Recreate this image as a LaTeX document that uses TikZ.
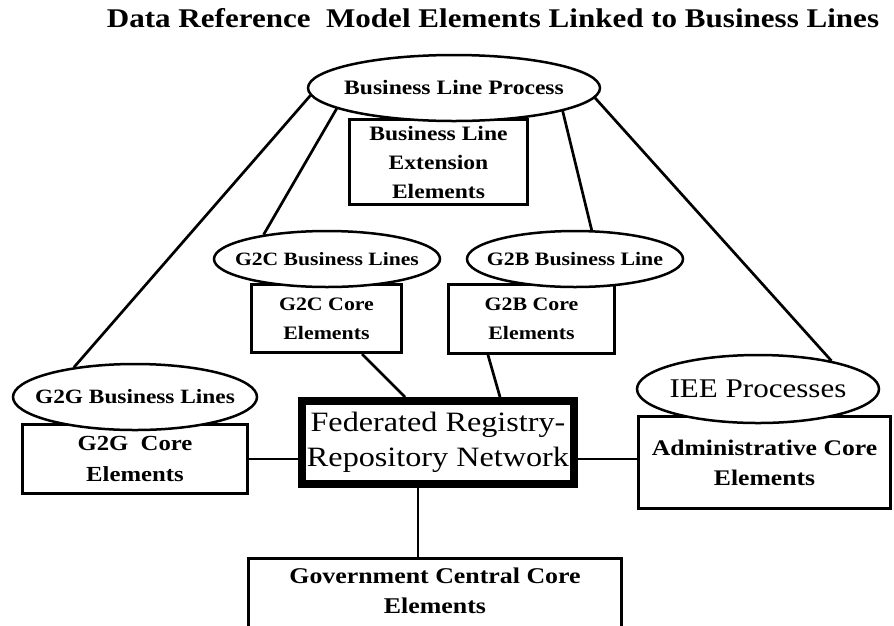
\documentclass[tikz,border=0pt]{standalone}
\usepackage{fontspec}
\setmainfont[FakeStretch=1.15]{Liberation Serif}
\usetikzlibrary{shapes.geometric}
\newcommand{\fsz}[2]{\fontsize{#1}{#2}\selectfont}
\newcommand{\zw}[1]{\makebox[0pt]{#1}}
\begin{document}
\begin{tikzpicture}[x=1pt,y=-1pt,
  ell/.style={draw,ellipse,fill=white,line width=2.5pt,inner sep=0pt},
  box/.style={draw,rectangle,line width=3pt,inner sep=0pt,align=center},
  link/.style={line width=2.7pt}]
\path[use as bounding box,clip] (0,0) rectangle (894,625);
\node[font=\fsz{27}{30}\bfseries] (title) at (493,18) {Data Reference\ \ Model Elements Linked to Business Lines};
% boxes
\node[box,font=\fsz{20.5}{29}\bfseries,minimum width=178,minimum height=85] (ble) at (438.5,162) {Business Line\\Extension\\Elements};
\node[box,font=\fsz{19}{29}\bfseries,minimum width=150,minimum height=68] (g2cb) at (326.5,318.5) {G2C Core\\Elements};
\node[box,font=\fsz{19}{29}\bfseries,minimum width=166,minimum height=69] (g2bb) at (531.5,319) {G2B Core\\Elements};
\node[box,font=\fsz{21.5}{31}\bfseries,minimum width=225,minimum height=69] (g2gb) at (135,459) {G2G\ \ Core\\Elements};
\node[box,font=\fsz{22.3}{30}\bfseries,minimum width=252,minimum height=92] (adm) at (764.5,462.5) {Administrative Core\\Elements};
\node[box,font=\fsz{22.5}{30}\bfseries,minimum width=373,anchor=north,inner ysep=9pt] (gov) at (435,557) {Government Central Core\\Elements\rule[-50pt]{0pt}{0pt}};
\node[draw,rectangle,line width=8pt,minimum width=272,minimum height=83,inner sep=0pt,align=center,font=\fsz{28}{35}] (fed) at (438,442.5) {Federated Registry-\\Repository Network};
% ellipses
\node[ell,font=\fsz{20.5}{24}\bfseries,minimum width=292,minimum height=66] (blp) at (454,88) {\zw{Business Line Process}};
\node[ell,font=\fsz{18.8}{22}\bfseries,minimum width=226,minimum height=56] (g2c) at (327,259) {\zw{G2C Business Lines}};
\node[ell,font=\fsz{19}{22}\bfseries,minimum width=216,minimum height=56] (g2b) at (575,259) {\zw{G2B Business Line}};
\node[ell,font=\fsz{20.3}{24}\bfseries,minimum width=244,minimum height=66] (g2g) at (135,397) {\zw{G2G Business Lines}};
\node[ell,font=\fsz{27}{30},minimum width=242,minimum height=68] (iee) at (758,389) {\zw{IEE Processes}};
% connectors
\draw[link] (blp.183) -- (g2g.154);
\draw[link] (blp.190) -- (g2c.159);
\draw[link] (blp.348) -- (g2b.60);
\draw[link] (blp.356) -- (iee.21);
\draw[link] (g2cb.south -| 362,0) -- (fed.north -| 405,0);
\draw[link] (g2bb.south -| 488,0) -- (fed.north -| 500,0);
\draw[link] (g2gb.east) -- (g2gb.east -| fed.west);
\draw[link] (fed.east |- g2gb.east) -- (adm.west |- g2gb.east);
\draw[link] (fed.south -| 418,0) -- (gov.north -| 418,0);
\end{tikzpicture}
\end{document}
